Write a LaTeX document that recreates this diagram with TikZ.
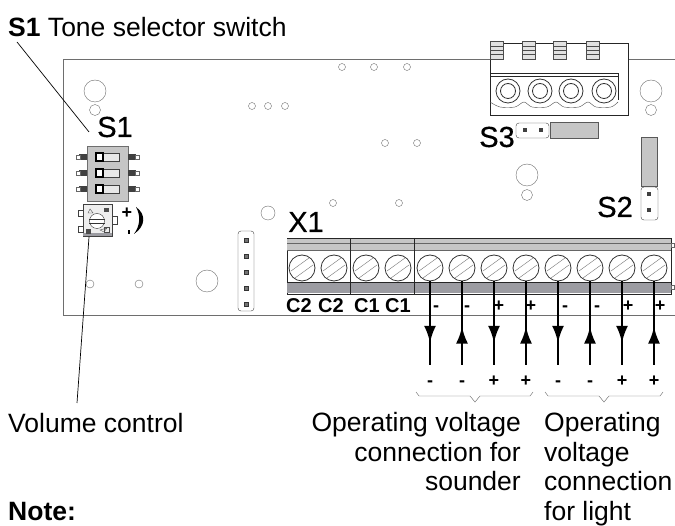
\documentclass[tikz,border=0pt]{standalone}
\usepackage{fontspec}
\setmainfont{Liberation Sans}
\newfontfamily\silkfont[FakeBold=.5]{Liberation Sans}
\usetikzlibrary{arrows.meta,decorations.markings}
\definecolor{boardline}{HTML}{6E6E6E}
\definecolor{partfill}{HTML}{C6C6C6}
\definecolor{bandfill}{HTML}{9C9CA2}
\tikzset{
  label text/.style={inner sep=0pt,font=\fontsize{26.5}{29.6}\selectfont},
  silk/.style={inner sep=0pt,font=\silkfont\fontsize{29}{29}\selectfont},
  term/.style={inner sep=0pt,font=\bfseries\fontsize{20}{20}\selectfont},
  sign/.style={inner sep=0pt,anchor=base,font=\bfseries\fontsize{18}{18}\selectfont},
  hole/.style={draw=boardline,circle,inner sep=0pt,minimum size=#1},
  screw/.style={draw=black!80,circle,fill=white,inner sep=0pt,minimum size=26pt,line width=.8pt},
  wire down/.style={line width=2.6pt,postaction={decorate},decoration={markings,
      mark=at position .735 with {\arrow{Latex[length=17pt,width=12pt]}}}},
  wire up/.style={line width=2.6pt,postaction={decorate},decoration={markings,
      mark=at position .46 with {\arrow{Latex[length=17pt,width=12pt]}}}},
}
\begin{document}
\begin{tikzpicture}[x=1pt,y=-1pt]
      \useasboundingbox (0, 0) rectangle (675, 526);
      \draw[boardline, line width=.9pt] (490, 59) -- (63, 59) -- (63, 315) -- (675, 315);
      \draw[boardline, line width=.9pt] (628, 59) -- (675, 59);

      \node[hole=22pt] (holea) at (95, 91) {};
      \node[hole=11pt] (holeb) at (95, 110) {};
      \node[hole=22pt] (holec) at (651, 91) {};
      \node[hole=11pt] (holed) at (651, 110) {};
      \node[hole=22pt] (holee) at (527, 175) {};
      \node[hole=11pt] (holef) at (527, 195) {};
      \node[hole=14pt] (holeg) at (268, 213) {};
      \node[hole=22pt] (holeh) at (207, 281) {};
      \node[hole=8pt] (holei) at (90, 284) {};
      \node[hole=8pt] (holej) at (139, 284) {};
      \foreach \x/\y in {252/106, 268/106, 285/106, 342/67, 374/67, 407/67, 385/143,
        417/143, 333/203, 399/203}
        \node[hole=7pt] at (\x, \y) {};

      \node[silk] (sonetext) at (115, 127) {S1};
      \draw[fill=partfill, draw=boardline] (87, 146) rectangle (128, 201);
      \foreach \y in {157, 173, 189} {
        \fill[black!75] (79, \y-3) rectangle (87, \y+3);
        \fill[black!75] (128, \y-3) rectangle (136, \y+3);
        \draw[draw=black!60, fill=white] (76, \y-2) rectangle (80, \y+2);
        \draw[draw=black!60, fill=white] (135, \y-2) rectangle (139, \y+2);
        \draw[draw=black!75, fill=partfill!40, line width=.8pt] (96, \y-4) rectangle (119, \y+4);
        \draw[draw=black, fill=white, line width=1.1pt] (96, \y-4) rectangle (103, \y+4);
      }

      \draw[draw=black!75, fill=partfill!30] (83, 204) rectangle (112, 236);
      \fill[bandfill] (83, 233) rectangle (112, 236);
      \draw[draw=black!75, fill=white] (78, 210) rectangle (83, 216);
      \draw[draw=black!75, fill=white] (78, 226) rectangle (83, 232);
      \draw[draw=black!75, fill=white] (112, 216) rectangle (117, 224);
      \node[draw=black!80, fill=white, circle, inner sep=0pt, minimum size=15pt] (volknob) at (97, 221) {};
      \draw[black!80, line width=.8pt] (89, 219) -- (105, 219) (89, 223) -- (105, 223);
      \draw[draw=black!70] (90, 209) -- (93, 213) -- (88, 213) -- cycle
        (107, 228) -- (104, 232) -- (100, 230) -- cycle;
      \fill[black!70] (86, 229) rectangle (91, 234);
      \fill[black!70] (104, 208) rectangle (109, 212);
      \draw[draw=black!70] (104, 227) rectangle (109, 232);
      \node[sign] (volplus) at (127, 219) {+};
      \fill (128, 230) rectangle (129.5, 234);
      \fill (136, 207) .. controls (146, 214) and (146, 226) .. (134, 234)
        .. controls (140, 226) and (141, 216) .. (136, 207);

      \draw[draw=black!75, rounded corners=3pt] (238, 231) rectangle (254, 311);
      \foreach \y in {240, 256, 272, 288, 304}
        \draw[draw=black!80, fill=black!55] (244, \y-2) rectangle (248, \y+2);

      \draw[draw=black!85, line width=.9pt] (490, 43) rectangle (628, 115);
      \draw[draw=black!85, line width=.9pt] (490, 73) -- (618, 73) -- (618, 100);
      \draw[draw=black!85] (490, 76) -- (618, 76);
      \foreach \x in {490, 522, 553, 586} {
        \draw[draw=black!70, fill=partfill!50] (\x, 41) rectangle (\x+13, 59);
        \draw[black!70] (\x, 46) -- (\x+13, 46) (\x, 50) -- (\x+13, 50) (\x, 54) -- (\x+13, 54);
      }
      \foreach \x in {508, 540, 571, 604} {
        \node[draw=black!80, circle, inner sep=0pt, minimum size=24pt, line width=.8pt] at (\x, 91) {};
        \node[draw=black!80, circle, inner sep=0pt, minimum size=15pt, line width=.8pt] at (\x, 91) {};
      }
      \draw[black!70] plot [smooth] coordinates {(490, 102) (500, 107) (515, 107) (524, 102)
        (532, 107) (547, 107) (556, 102) (564, 107) (579, 107) (588, 102) (596, 107) (611, 107) (618, 102)};

      \node[silk] (sthreetext) at (497, 137) {S3};
      \draw[draw=black!75, rounded corners=3pt] (516, 123) rectangle (549, 138);
      \fill[black!75] (523, 128) rectangle (527, 132);
      \fill[black!75] (539, 128) rectangle (543, 132);
      \draw[draw=black!65, fill=partfill] (550, 122) rectangle (598, 138);

      \node[silk] (stwotext) at (615, 207) {S2};
      \draw[draw=black!75, rounded corners=3pt] (641, 187) rectangle (658, 220);
      \fill[black!75] (647, 192) rectangle (651, 196);
      \fill[black!75] (647, 208) rectangle (651, 212);
      \draw[draw=black!65, fill=partfill] (641, 137) rectangle (657, 186);

      \node[silk] (xonetext) at (306, 222) {X1};
      \draw[draw=black!85, fill=white, line width=.9pt] (287, 238) rectangle (671, 294);
      \fill[partfill] (287, 239) rectangle (671, 250);
      \draw[black!60] (287, 243) -- (671, 243) (287, 250) -- (671, 250);
      \fill[bandfill] (287, 282) rectangle (671, 293);
      \draw[black!85] (287, 282) -- (671, 282);
      \draw[black!85, line width=.9pt] (350, 238) -- (350, 294) (414, 238) -- (414, 294);
      \draw[black!60] (671, 243) rectangle (674, 247) (671, 285) rectangle (674, 289);

      \foreach \i [evaluate=\i as \x using {302+(\i-1)*32}] in {1, ..., 12} {
        \node[screw] (screw\i) at (\x, 268) {};
        \draw[black!55] (\x-11, 271) -- (\x+7, 258) (\x-7, 278) -- (\x+11, 265);
      }

      \node[term] (cterma) at (299, 306) {C2};
      \node[term] (ctermb) at (331, 306) {C2};
      \node[term] (ctermc) at (367, 306) {C1};
      \node[term] (ctermd) at (398, 306) {C1};

      \foreach \i/\x/\s in {5/436/-, 6/467/-, 7/499/+, 8/531/+, 9/565/-, 10/597/-, 11/628/+, 12/660/+}
        \node[sign] (pin\i) at (\x, 312) {\s};

      \foreach \i in {5, ..., 12}
        \coordinate (end\i) at (screw\i |- 0, 365);
      \draw[wire down] (screw5.south) -- (end5);
      \draw[wire up] (end6) -- (screw6.south);
      \draw[wire down] (screw7.south) -- (end7);
      \draw[wire up] (end8) -- (screw8.south);
      \draw[wire down] (screw9.south) -- (end9);
      \draw[wire up] (end10) -- (screw10.south);
      \draw[wire down] (screw11.south) -- (end11);
      \draw[wire up] (end12) -- (screw12.south);

      \foreach \i/\s in {5/-, 6/-, 7/+, 8/+, 9/-, 10/-, 11/+, 12/+}
        \node[sign] (volt\i) at (screw\i |- 0, 387) {\s};

      \draw[draw=black!60] (416, 392) -- (419, 396) -- (470, 396) -- (475, 402) -- (480, 396)
        -- (530, 396) -- (533, 392);
      \draw[draw=black!60] (545, 392) -- (548, 396) -- (599, 396) -- (604, 402) -- (609, 396)
        -- (660, 396) -- (663, 392);

      \node[label text, anchor=west] (tonetext) at (8, 27) {\textbf{S1} Tone selector switch};
      \node[label text, anchor=west] (voltext) at (8, 423) {Volume control};
      \node[label text, anchor=north east, align=right] (soundertext) at (521, 412)
        {Operating voltage\\connection for\\sounder};
      \node[label text, anchor=north west, align=left] (lighttext) at (544, 412)
        {Operating\\voltage\\connection\\for light};
      \node[label text, anchor=base west] (notetext) at (8, 520) {\textbf{Note:}};

      \coordinate (tonestart) at (17, 42);
      \coordinate (toneend) at (89, 132);
      \coordinate (volend) at (77, 403);
      \draw[line width=.7pt] (tonestart) -- (toneend);
      \draw[line width=.7pt] (volknob.center) ++(-8, 16) -- (volend);
    \end{tikzpicture}
\end{document}
